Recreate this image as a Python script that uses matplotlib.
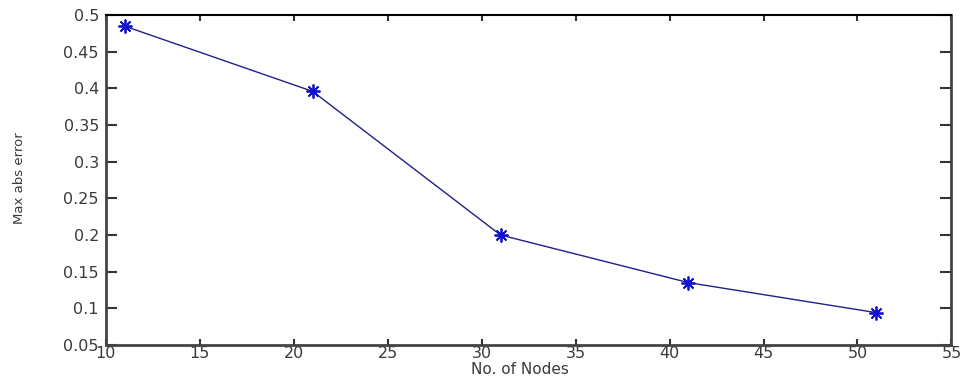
import matplotlib.pyplot as plt

nodes = [11, 21, 31, 41, 51]
max_abs_error = [0.485, 0.396, 0.200, 0.135, 0.094]

x_ticks = [10, 15, 20, 25, 30, 35, 40, 45, 50, 55]
y_ticks = [0.05, 0.1, 0.15, 0.2, 0.25, 0.3, 0.35, 0.4, 0.45, 0.5]
y_tick_labels = ['0.05', '0.1', '0.15', '0.2', '0.25', '0.3', '0.35', '0.4', '0.45', '0.5']

fig = plt.figure(figsize=(9.63, 3.79), dpi=100)
ax = fig.add_axes([0.110, 0.090, 0.878, 0.870])

ax.plot(nodes, max_abs_error, color='#20208a', linewidth=1.0)
# matlab '*' marker = plus + cross
ax.plot(nodes, max_abs_error, linestyle='none', marker=(8, 2, 0), markersize=10,
        color='#1010d0', markeredgewidth=1.3)

ax.set_xlim(10, 55)
ax.set_ylim(0.05, 0.5)
ax.set_xticks(x_ticks)
ax.set_yticks(y_ticks)
ax.set_yticklabels(y_tick_labels)

# matlab-like ticks: inward, on all four sides
ax.tick_params(axis='x', direction='in', length=4, width=1.5, top=True, pad=1)
ax.tick_params(axis='y', direction='in', length=8, width=1.5, right=True, pad=5)
ax.tick_params(labelsize=11.5, labelcolor='#3a3a3a', color='#333333')
for name in ['left', 'bottom', 'right']:
    ax.spines[name].set_linewidth(2.0)
    ax.spines[name].set_color('#444444')
ax.spines['top'].set_linewidth(1.5)
ax.spines['top'].set_color('black')

ax.set_xlabel('No. of Nodes', fontsize=11, color='#3a3a3a', va='center')
ax.xaxis.set_label_coords(0.49, -0.075)
ax.set_ylabel('Max abs error', fontsize=9.5, color='#3a3a3a', va='center')
ax.yaxis.set_label_coords(-0.102, 0.506)

fig.savefig('out.png', dpi=100)
